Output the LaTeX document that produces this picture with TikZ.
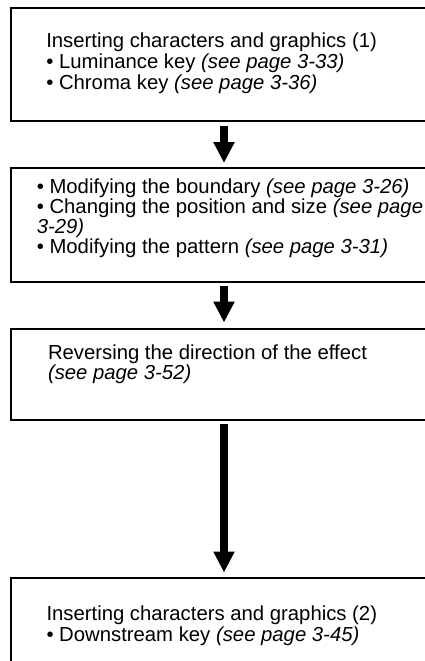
\documentclass[tikz,border=0pt]{standalone}
\usepackage{fontspec}
\setmainfont{Liberation Sans}
\usetikzlibrary{arrows.meta}
\begin{document}
\begin{tikzpicture}[x=1pt,y=-1pt,
  box/.style={draw, line width=1.8pt, rectangle, minimum width=426pt, outer sep=0pt, inner sep=0pt, anchor=north west},
  txt/.style={anchor=base west, inner sep=0pt, outer sep=0pt, font=\fontsize{20.3}{21}\selectfont},
  flow/.style={line width=7.5pt, -{Triangle[width=20pt,length=21pt]}}]
\clip (0,0) rectangle (425,661);
\fill[white] (0,0) rectangle (425,661);
% boxes
\node[box, minimum height=113pt] (b1) at (11,8) {};
\node[box, minimum height=114pt] (b2) at (11,168) {};
\node[box, minimum height=91pt] (b3) at (11,329) {};
\node[box, minimum height=110pt] (b4) at (11,578) {};
% texts
\node[txt] (t1a) at (46.3,48) {Inserting characters and graphics (1)};
\node[txt] (t1b) at (46.3,68.5) {• Luminance key \textit{(see page 3-33)}};
\node[txt] (t1c) at (46.3,89) {• Chroma key \textit{(see page 3-36)}};
\node[txt] (t2a) at (36.8,193.5) {• Modifying the boundary \textit{(see page 3-26)}};
\node[txt] (t2b) at (36.8,213.5) {• Changing the position and size \textit{(see page}};
\node[txt] (t2c) at (36.8,233.5) {\textit{3-29)}};
\node[txt] (t2d) at (36.8,253.5) {• Modifying the pattern \textit{(see page 3-31)}};
\node[txt] (t3a) at (48,359) {Reversing the direction of the effect};
\node[txt] (t3b) at (48,379) {\textit{(see page 3-52)}};
\node[txt] (t4a) at (46.5,620.5) {Inserting characters and graphics (2)};
\node[txt] (t4b) at (46.5,641) {• Downstream key \textit{(see page 3-45)}};
% arrows
\draw[flow, shorten <=5pt, shorten >=5pt] (b1.south) -- (b2.north);
\draw[flow, shorten <=4pt, shorten >=6.5pt] (b2.south) -- (b3.north);
\draw[flow, shorten <=4pt, shorten >=5.5pt] (b3.south) -- (b4.north);
\end{tikzpicture}
\end{document}
